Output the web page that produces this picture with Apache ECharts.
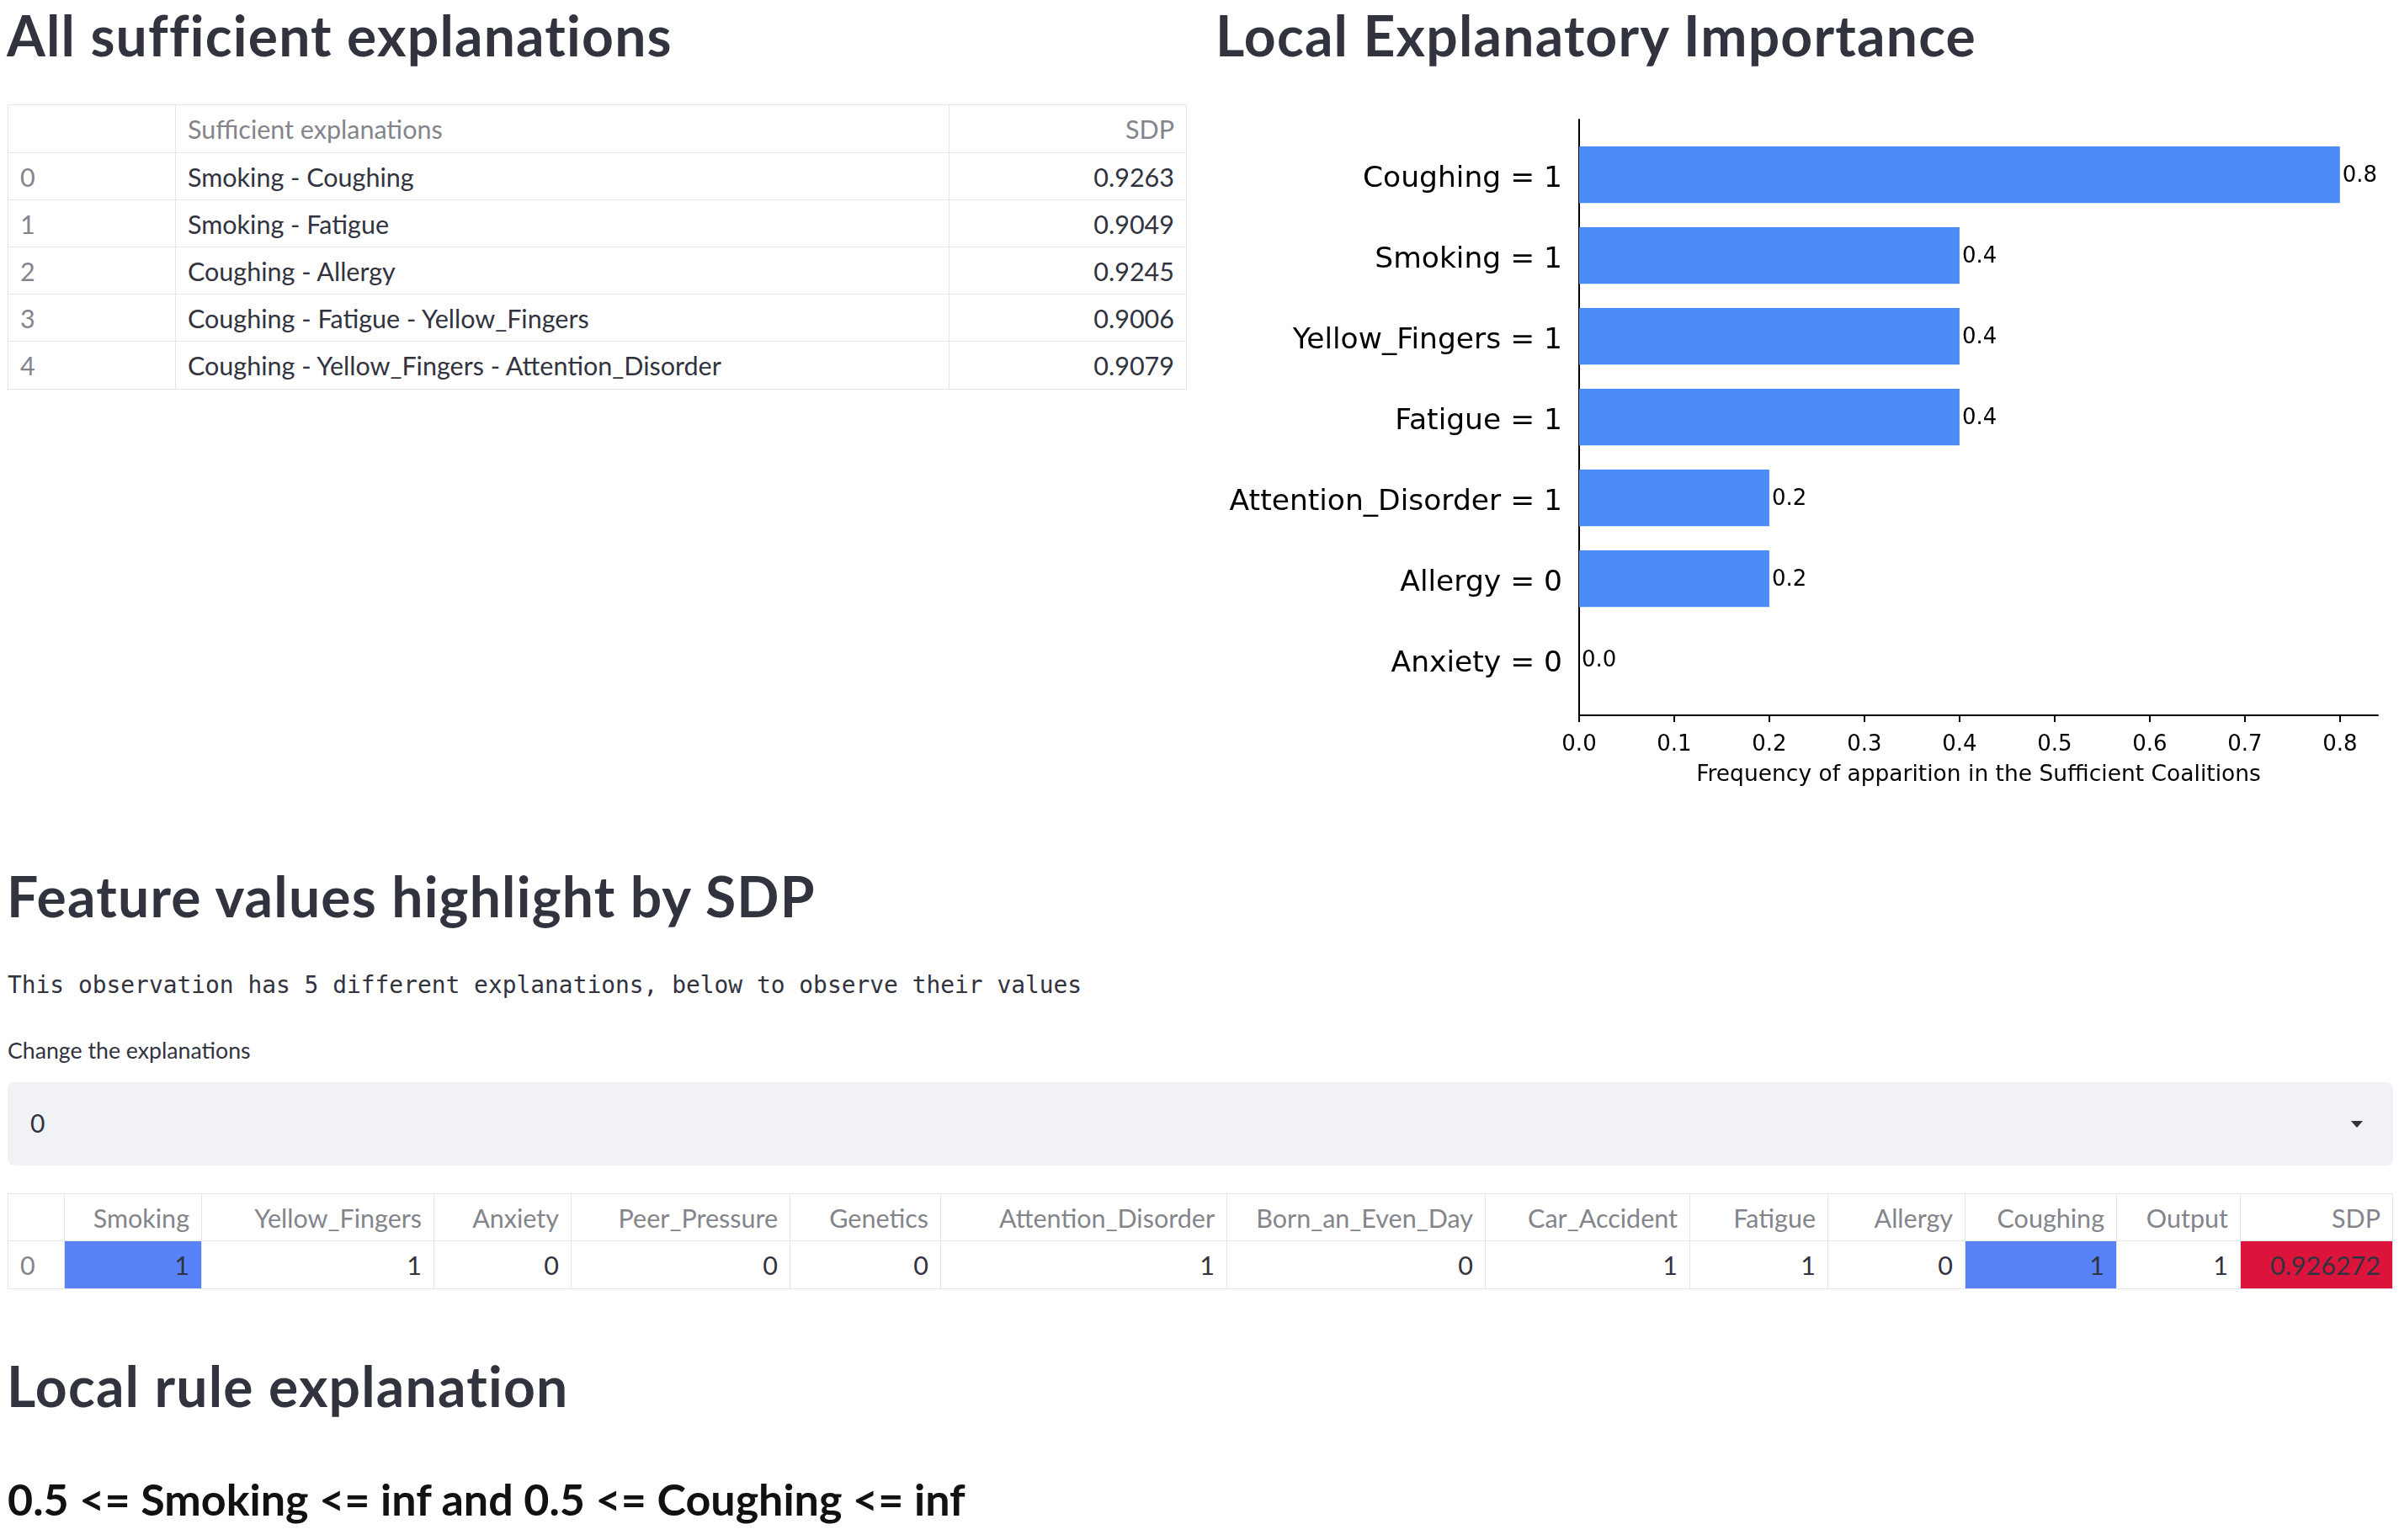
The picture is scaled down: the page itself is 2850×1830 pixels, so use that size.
<!DOCTYPE html>
<html>
<head>
<meta charset="utf-8">
<script src="https://cdn.jsdelivr.net/npm/echarts@6/dist/echarts.min.js"></script>
<style>
html, body { margin: 0; padding: 0; background: #fff; width: 2850px; height: 1830px; overflow: hidden; }
body { font-family: Lato, "Noto Sans", sans-serif; color: #31333F; position: relative; }
.abs { position: absolute; white-space: nowrap; }
.title { font-size: 66px; line-height: 64px; font-weight: 700; letter-spacing: 1.2px; color: #31333F; }
.cell { position: absolute; box-sizing: border-box; border: 1px solid #E4E5E9; display: flex; align-items: center;
        padding: 0 14px; font-size: 30.5px; color: #31333F; white-space: nowrap; overflow: hidden; }
.cell.head, .cell.idx { color: #83858C; }
.cell.right { justify-content: flex-end; }
#chart { position: absolute; left: 1400px; top: 100px; width: 1450px; height: 880px; }
#select { position: absolute; left: 9px; top: 1286px; width: 2834px; height: 99px; background: #F0F2F6; border-radius: 8px; }
#arrow { position: absolute; left: 2793px; top: 1332px; width: 0; height: 0;
         border-left: 7px solid transparent; border-right: 7px solid transparent; border-top: 8px solid #31333F; }
</style>
</head>
<body>
<div class="abs title" style="left:8px;top:10px">All sufficient explanations</div>
<div class="abs title" style="left:1444px;top:10px">Local Explanatory Importance</div>
<div id="table1"></div>
<div id="chart"></div>

<div class="abs title" style="left:8px;top:1033px">Feature values highlight by SDP</div>
<div class="abs" style="left:9px;top:1157px;font-family:'DejaVu Sans Mono',monospace;font-size:27.9px;line-height:27px">This observation has 5 different explanations, below to observe their values</div>
<div class="abs" style="left:9px;top:1236px;font-size:26.7px;line-height:25px">Change the explanations</div>
<div id="select"><div class="abs" style="left:27px;top:34px;font-size:30px;line-height:29px">0</div></div>
<div id="arrow"></div>
<div id="table2"></div>

<div class="abs title" style="left:8px;top:1615px">Local rule explanation</div>
<div class="abs" style="left:9px;top:1756px;font-size:52px;line-height:50px;font-weight:700;color:#111">0.5 &lt;= Smoking &lt;= inf and 0.5 &lt;= Coughing &lt;= inf</div>

<script>
// bar chart data
var featureLabels = ['Coughing = 1', 'Smoking = 1', 'Yellow_Fingers = 1', 'Fatigue = 1', 'Attention_Disorder = 1', 'Allergy = 0', 'Anxiety = 0'];
var frequencies = [0.8, 0.4, 0.4, 0.4, 0.2, 0.2, 0.0];
var xTicks = [0.0, 0.1, 0.2, 0.3, 0.4, 0.5, 0.6, 0.7, 0.8];
var xMax = 0.84;

// sufficient explanations table
var explanationIdx = ['0', '1', '2', '3', '4'];
var explanations = ['Smoking - Coughing', 'Smoking - Fatigue', 'Coughing - Allergy', 'Coughing - Fatigue - Yellow_Fingers', 'Coughing - Yellow_Fingers - Attention_Disorder'];
var explanationSdp = ['0.9263', '0.9049', '0.9245', '0.9006', '0.9079'];

// feature values table
var featureNames = ['Smoking', 'Yellow_Fingers', 'Anxiety', 'Peer_Pressure', 'Genetics', 'Attention_Disorder', 'Born_an_Even_Day', 'Car_Accident', 'Fatigue', 'Allergy', 'Coughing', 'Output', 'SDP'];
var featureValues = ['1', '1', '0', '0', '0', '1', '0', '1', '1', '0', '1', '1', '0.926272'];
var highlighted = ['Smoking', 'Coughing'];

function addCell (parent, x0, x1, y0, y1, text, cls, bg) {
    var d = document.createElement('div')
    d.className = 'cell ' + (cls || '')
    d.style.left = x0 + 'px'
    d.style.top = y0 + 'px'
    d.style.width = (x1 - x0 + 1) + 'px'
    d.style.height = (y1 - y0 + 1) + 'px'
    if (bg) d.style.background = bg
    d.textContent = text
    parent.appendChild(d)
}

function buildTable1 () {
    var el = document.getElementById('table1')
    var cols = [9, 208, 1127, 1409]
    var rows = [124, 181, 237, 293, 349, 405, 462]
    addCell(el, cols[0], cols[1], rows[0], rows[1], '', 'head')
    addCell(el, cols[1], cols[2], rows[0], rows[1], 'Sufficient explanations', 'head')
    addCell(el, cols[2], cols[3], rows[0], rows[1], 'SDP', 'head right')
    for (var i = 0; i < explanations.length; i++) {
        addCell(el, cols[0], cols[1], rows[i + 1], rows[i + 2], explanationIdx[i], 'idx')
        addCell(el, cols[1], cols[2], rows[i + 1], rows[i + 2], explanations[i], '')
        addCell(el, cols[2], cols[3], rows[i + 1], rows[i + 2], explanationSdp[i], 'right')
    }
}

function buildTable2 () {
    var el = document.getElementById('table2')
    var cols = [9, 76, 239, 515, 678, 938, 1117, 1457, 1764, 2007, 2171, 2334, 2514, 2661, 2842]
    var rows = [1418, 1474, 1531]
    addCell(el, cols[0], cols[1], rows[0], rows[1], '', 'head')
    addCell(el, cols[0], cols[1], rows[1], rows[2], '0', 'idx')
    for (var j = 0; j < featureNames.length; j++) {
        var bg = null
        if (highlighted.indexOf(featureNames[j]) >= 0) bg = '#5882F7'
        if (featureNames[j] == 'SDP') bg = '#DC143C'
        addCell(el, cols[j + 1], cols[j + 2], rows[0], rows[1], featureNames[j], 'head right')
        addCell(el, cols[j + 1], cols[j + 2], rows[1], rows[2], featureValues[j], 'right', bg)
    }
}

function initChart () {
    var chart = echarts.init(document.getElementById('chart'), null, { renderer: 'canvas' })
    var font = 'DejaVu Sans'
    var option = {
        animation: false,
        grid: [
            // bars
            { left: 476, top: 59.7, width: 949, height: 672 },
            // axes frame (matplotlib margins)
            { left: 476, top: 42, width: 949, height: 708 }
        ],
        xAxis: [
            { gridIndex: 0, type: 'value', min: 0, max: xMax, show: false },
            {
                gridIndex: 1, type: 'value', min: 0, max: xMax,
                name: 'Frequency of apparition in the Sufficient Coalitions',
                nameLocation: 'middle',
                nameGap: 58,
                nameTextStyle: { fontFamily: font, fontSize: 26.5, color: '#000' },
                axisLine: { show: true, lineStyle: { color: '#000', width: 2 } },
                axisTick: { show: true, length: 8, lineStyle: { color: '#000', width: 2 }, customValues: xTicks },
                axisLabel: {
                    show: true, margin: 22, fontFamily: font, fontSize: 26, color: '#000',
                    customValues: xTicks,
                    formatter: function (v) { return v.toFixed(1) }
                },
                splitLine: { show: false }
            }
        ],
        yAxis: [
            {
                gridIndex: 0, type: 'category', inverse: true, data: featureLabels,
                axisLine: { show: false },
                axisTick: { show: false },
                axisLabel: {
                    margin: 20,
                    formatter: function (v) { return '{l|' + v + '}' },
                    rich: { l: { fontFamily: font, fontSize: 34.5, color: '#000', padding: [10, 0, 0, 0] } }
                },
                splitLine: { show: false }
            },
            {
                gridIndex: 1, type: 'value', min: 0, max: 1,
                axisLine: { show: true, lineStyle: { color: '#000', width: 2 } },
                axisTick: { show: false },
                axisLabel: { show: false },
                splitLine: { show: false }
            }
        ],
        series: [{
            type: 'bar',
            xAxisIndex: 0,
            yAxisIndex: 0,
            data: frequencies,
            barCategoryGap: '30%',
            itemStyle: { color: '#4B8BF5' },
            label: {
                show: true,
                position: 'right',
                distance: 3,
                formatter: function (p) { return '{v|' + p.value.toFixed(1) + '}' },
                rich: { v: { fontFamily: font, fontSize: 26, color: '#000', padding: [4, 0, 0, 0] } }
            }
        }]
    }
    chart.setOption(option)
}

buildTable1()
buildTable2()
initChart()
</script>
</body>
</html>
